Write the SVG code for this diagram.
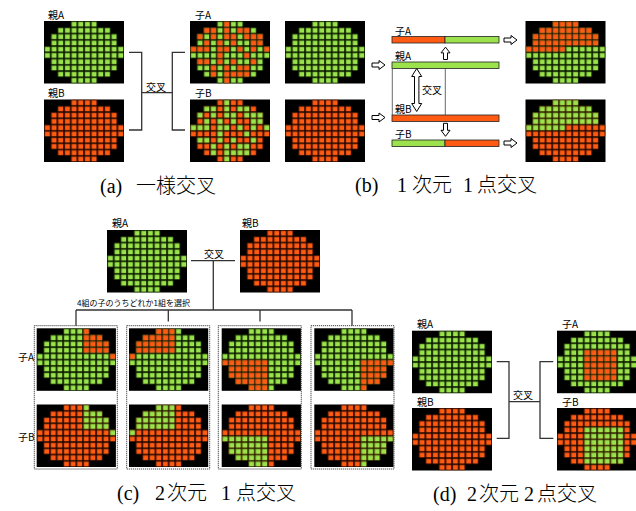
<svg xmlns="http://www.w3.org/2000/svg" xmlns:xlink="http://www.w3.org/1999/xlink" width="636" height="511" viewBox="0 0 636 511">
<style>
.lb{font-family:"Noto Sans CJK JP","Noto Sans",sans-serif;font-size:10px;fill:#000}
.sm{font-family:"Noto Sans CJK JP","Noto Sans",sans-serif;font-size:8px;fill:#000}
.cap{font-family:"Liberation Serif","Noto Sans CJK JP",serif;font-size:20px;font-weight:300;fill:#000}
.ln{stroke:#333;stroke-width:1.3;fill:none}
.tn{stroke:#444;stroke-width:0.8;fill:none}
.ha{fill:#fff;stroke:#000;stroke-width:1}
.bar{stroke:#222;stroke-width:0.8}
.box{fill:#fff;stroke:#444;stroke-width:1;stroke-dasharray:1.2 0.8}
</style>
<defs>
<pattern id="pg" width="1" height="1" patternUnits="userSpaceOnUse">
<rect x="0.07" y="0.07" width="0.86" height="0.86" fill="#3b6e12"/>
<rect x="0.18" y="0.18" width="0.68" height="0.68" fill="#9be24c"/>
</pattern>
<pattern id="po" width="1" height="1" patternUnits="userSpaceOnUse">
<rect x="0.07" y="0.07" width="0.86" height="0.86" fill="#8c2a06"/>
<rect x="0.18" y="0.18" width="0.68" height="0.68" fill="#ff5b12"/>
</pattern>
<path id="blob" d="M4,0H8V1H10V2H11V4H12V6H11V8H10V9H8V10H4V9H2V8H1V6H0V4H1V2H2V1H4Z"/>
<clipPath id="cb"><use xlink:href="#blob"/></clipPath>
<g id="imgG"><rect width="12" height="10" fill="#000"/><use xlink:href="#blob" fill="url(#pg)"/></g>
<g id="imgO"><rect width="12" height="10" fill="#000"/><use xlink:href="#blob" fill="url(#po)"/></g>
<path id="sA" d="M5 0h1v1h-1z
M2 1h2v1h-2zM5 1h1v1h-1zM7 1h2v1h-2z
M1 2h1v1h-1zM3 2h1v1h-1zM5 2h2v1h-2zM8 2h3v1h-3z
M2 3h1v1h-1zM4 3h1v1h-1zM6 3h1v1h-1zM9 3h2v1h-2z
M0 4h3v1h-3zM4 4h2v1h-2zM7 4h1v1h-1zM9 4h1v1h-1zM11 4h1v1h-1z
M4 5h1v1h-1zM8 5h1v1h-1z
M1 6h2v1h-2zM4 6h1v1h-1zM6 6h1v1h-1zM9 6h1v1h-1z
M3 7h1v1h-1zM5 7h1v1h-1zM7 7h2v1h-2z
M3 8h1v1h-1zM5 8h4v1h-4z
M5 9h1v1h-1z"/>
<path id="rB" d="M0 0h12v4h-12zM0 4h6v1h-6z"/>
<path id="R1" d="M7 0h5v4h-5zM11 4h1v1h-1z"/>
<path id="R2" d="M0 0h7v4h-7zM0 4h1v1h-1z"/>
<path id="R3" d="M0 5h7v5h-7z"/>
<path id="R4" d="M7 5h5v5h-5z"/>
<path id="D1" d="M4 3h5v5h-5z"/>
<path id="D2" d="M4 3h6v6h-6z"/>
<path id="arR" d="M0,-2H7V-4.5L13,0L7,4.5V2H0Z"/>
</defs>

<!-- (a) uniform crossover -->
<g id="a_parentA"><text class="lb" x="48" y="19">親A</text>
<g transform="translate(44,21) scale(6.6667,6.25)"><use xlink:href="#imgG"/></g></g>
<g id="a_parentB"><text class="lb" x="48" y="97">親B</text>
<g transform="translate(44,99.5) scale(6.6667,6.25)"><use xlink:href="#imgO"/></g></g>
<g id="a_childA"><text class="lb" x="195" y="19">子A</text>
<g transform="translate(190,21) scale(6.6667,6.25)"><use xlink:href="#imgG"/><use xlink:href="#sA" fill="url(#po)"/></g></g>
<g id="a_childB"><text class="lb" x="195" y="97">子B</text>
<g transform="translate(190,99.5) scale(6.6667,6.25)"><use xlink:href="#imgO"/><use xlink:href="#sA" fill="url(#pg)"/></g></g>
<text class="lb" x="146" y="91">交叉</text>
<text class="cap" x="100" y="193">(a)<tspan x="136">一様交叉</tspan></text>

<!-- (b) 1D one-point -->
<g id="b_parentA"><g transform="translate(285,21) scale(6.6667,6.25)"><use xlink:href="#imgG"/></g></g>
<g id="b_parentB"><g transform="translate(285,99.5) scale(6.6667,6.25)"><use xlink:href="#imgO"/></g></g>
<g id="b_bars">
<text class="lb" x="395" y="35">子A</text>
<rect class="bar" x="392" y="36.5" width="53" height="6.5" fill="#ff5b12"/>
<rect class="bar" x="445" y="36.5" width="54" height="6.5" fill="#9be24c"/>
<text class="lb" x="395" y="60">親A</text>
<rect class="bar" x="392" y="62" width="107" height="6.5" fill="#9be24c"/>
<text class="lb" x="395" y="113">親B</text>
<rect class="bar" x="392" y="115" width="107" height="6.5" fill="#ff5b12"/>
<text class="lb" x="395" y="138">子B</text>
<rect class="bar" x="392" y="140" width="53" height="6.5" fill="#9be24c"/>
<rect class="bar" x="445" y="140" width="54" height="6.5" fill="#ff5b12"/>
<text class="lb" x="422" y="94">交叉</text>
</g>
<g id="b_childA"><g transform="translate(525.5,21) scale(6.6667,6.25)"><use xlink:href="#imgG"/><use xlink:href="#rB" fill="url(#po)" clip-path="url(#cb)"/></g></g>
<g id="b_childB"><g transform="translate(525.5,99.5) scale(6.6667,6.25)"><use xlink:href="#imgO"/><use xlink:href="#rB" fill="url(#pg)" clip-path="url(#cb)"/></g></g>
<text class="cap" x="355" y="192">(b)<tspan x="397">1</tspan><tspan x="412">次元</tspan><tspan x="463">1</tspan><tspan x="477">点交叉</tspan></text>

<!-- (c) 2D one-point -->
<g id="c_parentA"><text class="lb" x="112" y="227">親A</text>
<g transform="translate(107,230) scale(6.6667,6.25)"><use xlink:href="#imgG"/></g></g>
<g id="c_parentB"><text class="lb" x="242" y="227">親B</text>
<g transform="translate(240,230) scale(6.6667,6.25)"><use xlink:href="#imgO"/></g></g>
<text class="lb" x="204" y="258">交叉</text>
<text class="sm" x="77" y="306">4組の子のうちどれか1組を選択</text>
<text class="lb" x="18" y="361">子A</text>
<text class="lb" x="18" y="441">子B</text>
<g id="c_box1"><rect class="box" x="34.3" y="325.7" width="83" height="143.3"/>
<g transform="translate(36.7,328.3) scale(6.6,6.25)"><use xlink:href="#imgG"/><use xlink:href="#R1" fill="url(#po)" clip-path="url(#cb)"/></g>
<g transform="translate(36.7,404.5) scale(6.6,6.25)"><use xlink:href="#imgO"/><use xlink:href="#R1" fill="url(#pg)" clip-path="url(#cb)"/></g></g>
<g id="c_box2"><rect class="box" x="126.7" y="325.7" width="83" height="143.3"/>
<g transform="translate(129,328.3) scale(6.6,6.25)"><use xlink:href="#imgG"/><use xlink:href="#R2" fill="url(#po)" clip-path="url(#cb)"/></g>
<g transform="translate(129,404.5) scale(6.6,6.25)"><use xlink:href="#imgO"/><use xlink:href="#R2" fill="url(#pg)" clip-path="url(#cb)"/></g></g>
<g id="c_box3"><rect class="box" x="218.3" y="325.7" width="83" height="143.3"/>
<g transform="translate(221.7,328.3) scale(6.6,6.25)"><use xlink:href="#imgG"/><use xlink:href="#R3" fill="url(#po)" clip-path="url(#cb)"/></g>
<g transform="translate(221.7,404.5) scale(6.6,6.25)"><use xlink:href="#imgO"/><use xlink:href="#R3" fill="url(#pg)" clip-path="url(#cb)"/></g></g>
<g id="c_box4"><rect class="box" x="311" y="325.7" width="83" height="143.3"/>
<g transform="translate(314.3,328.3) scale(6.6,6.25)"><use xlink:href="#imgG"/><use xlink:href="#R4" fill="url(#po)" clip-path="url(#cb)"/></g>
<g transform="translate(314.3,404.5) scale(6.6,6.25)"><use xlink:href="#imgO"/><use xlink:href="#R4" fill="url(#pg)" clip-path="url(#cb)"/></g></g>
<text class="cap" x="117" y="500">(c)<tspan x="155">2</tspan><tspan x="167">次元</tspan><tspan x="221">1</tspan><tspan x="236">点交叉</tspan></text>

<!-- (d) 2D two-point -->
<g id="d_parentA"><text class="lb" x="417" y="328">親A</text>
<g transform="translate(412,330.7) scale(6.6667,6.25)"><use xlink:href="#imgG"/></g></g>
<g id="d_parentB"><text class="lb" x="417" y="406">親B</text>
<g transform="translate(412,408) scale(6.6667,6.25)"><use xlink:href="#imgO"/></g></g>
<g id="d_childA"><text class="lb" x="562" y="328">子A</text>
<g transform="translate(557,330.7) scale(6.6667,6.25)"><use xlink:href="#imgG"/><use xlink:href="#D1" fill="url(#po)" clip-path="url(#cb)"/></g></g>
<g id="d_childB"><text class="lb" x="562" y="406">子B</text>
<g transform="translate(557,408) scale(6.6667,6.25)"><use xlink:href="#imgO"/><use xlink:href="#D2" fill="url(#pg)" clip-path="url(#cb)"/></g></g>
<text class="lb" x="513" y="399">交叉</text>
<text class="cap" x="433" y="501">(d)<tspan x="467">2</tspan><tspan x="479">次元</tspan><tspan x="524">2</tspan><tspan x="537">点交叉</tspan></text>

<!-- connectors -->
<g id="connectors">
<path class="ln" d="M129,52.3H141.7V130H129M141.7,92.7H172.3M185,52.3H172.3V130H185"/>
<path class="tn" d="M392.3,68.5V115M445.3,68.5V115"/>
<use xlink:href="#arR" class="ha" transform="translate(372,65)"/>
<use xlink:href="#arR" class="ha" transform="translate(372,117.5)"/>
<use xlink:href="#arR" class="ha" transform="translate(504,40)"/>
<use xlink:href="#arR" class="ha" transform="translate(504,143)"/>
<use xlink:href="#arR" class="ha" transform="translate(445.5,59.5) rotate(-90) scale(0.95,1)"/>
<use xlink:href="#arR" class="ha" transform="translate(445.5,123.3) rotate(90)"/>
<path class="ha" d="M416.7,68.5L421.7,76.5H418.9V103.5H421.7L416.7,111.5L411.7,103.5H414.5V76.5H411.7Z"/>
<path class="ln" d="M191,260.7H235M213.3,260.7V310M76,310H352M76,310V325.7M168.3,310V321.5M260,310V321.5M352,310V325.7"/>
<path class="ln" d="M496.7,361.7H509V438.3H496.7M509,401.7H540M553.3,361.7H540V438.3H553.3"/>
</g>
</svg>
